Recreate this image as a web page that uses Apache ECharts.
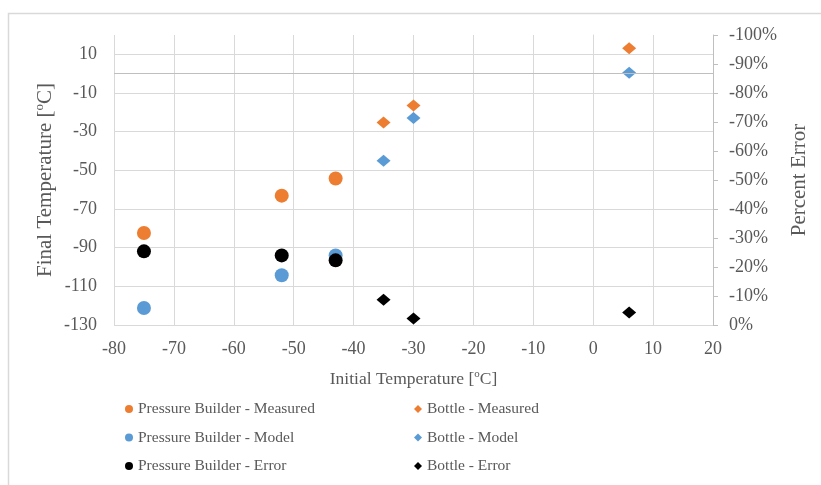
<!DOCTYPE html>
<html>
<head>
<meta charset="utf-8">
<script src="https://cdn.jsdelivr.net/npm/echarts@6/dist/echarts.min.js"></script>
<style>
  html, body { margin: 0; padding: 0; background: #fff; }
  #chart { width: 821px; height: 485px; }
</style>
</head>
<body>
<div id="chart"></div>
<script>
// Initial temperatures (°C) for each test setup
const pbX = [-75, -52, -43];
const bottleX = [-35, -30, 6];

// Final temperatures (°C)
const pbMeasured = [-82.4, -63.1, -54.2];
const pbModel = [-121.2, -104.3, -94.0];
const bottleMeasured = [-25.2, -16.5, 13.1];
const bottleModel = [-45.0, -22.9, 0.5];

// Percent error (right axis, %)
const pbError = [-25.4, -24.0, -22.3];
const bottleError = [-8.7, -2.2, -4.3];

// Axis ranges
const xRange = { min: -80, max: 20, step: 10 };
const tempRange = { min: -130, max: 20, step: 20 };
const errRange = { min: -100, max: 0, step: 10 };

const FONT = "'Liberation Serif', 'Times New Roman', serif";
const TXT = '#595959';
const ORANGE = '#ED7D31';
const BLUE = '#5B9BD5';
const BLACK = '#000000';

function pairs(xs, ys) { return xs.map((x, i) => [x, ys[i]]); }

const supRich = (size) => ({
  sup: { fontFamily: FONT, color: TXT, fontSize: Math.round(size * 0.62), lineHeight: Math.round(size * 0.62), verticalAlign: 'top' }
});

const legendText = { fontFamily: FONT, fontSize: 15.5, lineHeight: 16, color: TXT };

const chart = echarts.init(document.getElementById('chart'));
chart.setOption({
  backgroundColor: '#fff',
  animation: false,
  graphic: [{
    type: 'rect', left: 6, top: 11, silent: true,
    shape: { width: 830, height: 490 },
    style: { fill: 'none', stroke: '#d9d9d9', lineWidth: 1.5 }
  }],
  grid: { left: 114, top: 35, width: 599, height: 290 },
  legend: [
    {
      orient: 'vertical', left: 125, top: 401, padding: 0, itemGap: 12.5, itemWidth: 8, itemHeight: 8,
      textStyle: legendText,
      data: [
        { name: 'Pressure Builder - Measured', icon: 'circle' },
        { name: 'Pressure Builder - Model', icon: 'circle' },
        { name: 'Pressure Builder - Error', icon: 'circle' }
      ]
    },
    {
      orient: 'vertical', left: 414, top: 401, padding: 0, itemGap: 12.5, itemWidth: 8, itemHeight: 8,
      textStyle: legendText,
      data: [
        { name: 'Bottle - Measured', icon: 'diamond' },
        { name: 'Bottle - Model', icon: 'diamond' },
        { name: 'Bottle - Error', icon: 'diamond' }
      ]
    }
  ],
  xAxis: {
    type: 'value', min: xRange.min, max: xRange.max, interval: xRange.step,
    name: 'Initial Temperature [{sup|o}C]', nameLocation: 'middle', nameGap: 44,
    nameTextStyle: { fontFamily: FONT, fontSize: 17.5, color: TXT, lineHeight: 20, rich: supRich(17.5) },
    axisLine: { show: false }, axisTick: { show: false },
    axisLabel: { fontFamily: FONT, fontSize: 18, color: TXT, margin: 15 },
    splitLine: { show: true, lineStyle: { color: '#d9d9d9', width: 1 } }
  },
  yAxis: [
    {
      type: 'value', min: tempRange.min, max: tempRange.max, interval: tempRange.step,
      name: 'Final Temperature [{sup|o}C]', nameLocation: 'middle', nameGap: 57, nameMoveOverlap: false,
      nameTextStyle: { fontFamily: FONT, fontSize: 21, color: TXT, lineHeight: 24, rich: supRich(21) },
      axisLine: { show: true, lineStyle: { color: '#d9d9d9' } }, axisTick: { show: false },
      axisLabel: { fontFamily: FONT, fontSize: 18, color: TXT, margin: 17, showMaxLabel: false },
      splitLine: { show: true, showMaxLine: false, lineStyle: { color: '#d9d9d9', width: 1 } }
    },
    {
      type: 'value', position: 'right', inverse: true,
      min: errRange.min, max: errRange.max, interval: errRange.step,
      name: 'Percent Error', nameLocation: 'middle', nameGap: 76, nameRotate: 90,
      nameTextStyle: { fontFamily: FONT, fontSize: 21, color: TXT },
      axisLine: { show: true, lineStyle: { color: '#bfbfbf' } },
      axisTick: { show: true, length: 5, lineStyle: { color: '#bfbfbf' } },
      axisLabel: { fontFamily: FONT, fontSize: 18, color: TXT, margin: 16, formatter: '{value}%' },
      splitLine: { show: false }
    }
  ],
  series: [
    {
      name: 'Pressure Builder - Measured', type: 'scatter', symbol: 'circle', symbolSize: 14,
      itemStyle: { color: ORANGE, opacity: 1 }, data: pairs(pbX, pbMeasured),
      markLine: {
        silent: true, symbol: 'none', label: { show: false },
        lineStyle: { color: '#bfbfbf', width: 1, type: 'solid' },
        data: [{ yAxis: 0 }]
      }
    },
    {
      name: 'Pressure Builder - Model', type: 'scatter', symbol: 'circle', symbolSize: 14,
      itemStyle: { color: BLUE, opacity: 1 }, data: pairs(pbX, pbModel)
    },
    {
      name: 'Bottle - Measured', type: 'scatter', symbol: 'diamond', symbolSize: [14, 12],
      itemStyle: { color: ORANGE, opacity: 1 }, data: pairs(bottleX, bottleMeasured)
    },
    {
      name: 'Bottle - Model', type: 'scatter', symbol: 'diamond', symbolSize: [14, 12],
      itemStyle: { color: BLUE, opacity: 1 }, data: pairs(bottleX, bottleModel)
    },
    {
      name: 'Pressure Builder - Error', type: 'scatter', symbol: 'circle', symbolSize: 14, yAxisIndex: 1,
      itemStyle: { color: BLACK, opacity: 1 }, data: pairs(pbX, pbError)
    },
    {
      name: 'Bottle - Error', type: 'scatter', symbol: 'diamond', symbolSize: [14, 12], yAxisIndex: 1,
      itemStyle: { color: BLACK, opacity: 1 }, data: pairs(bottleX, bottleError)
    }
  ]
});
</script>
</body>
</html>
